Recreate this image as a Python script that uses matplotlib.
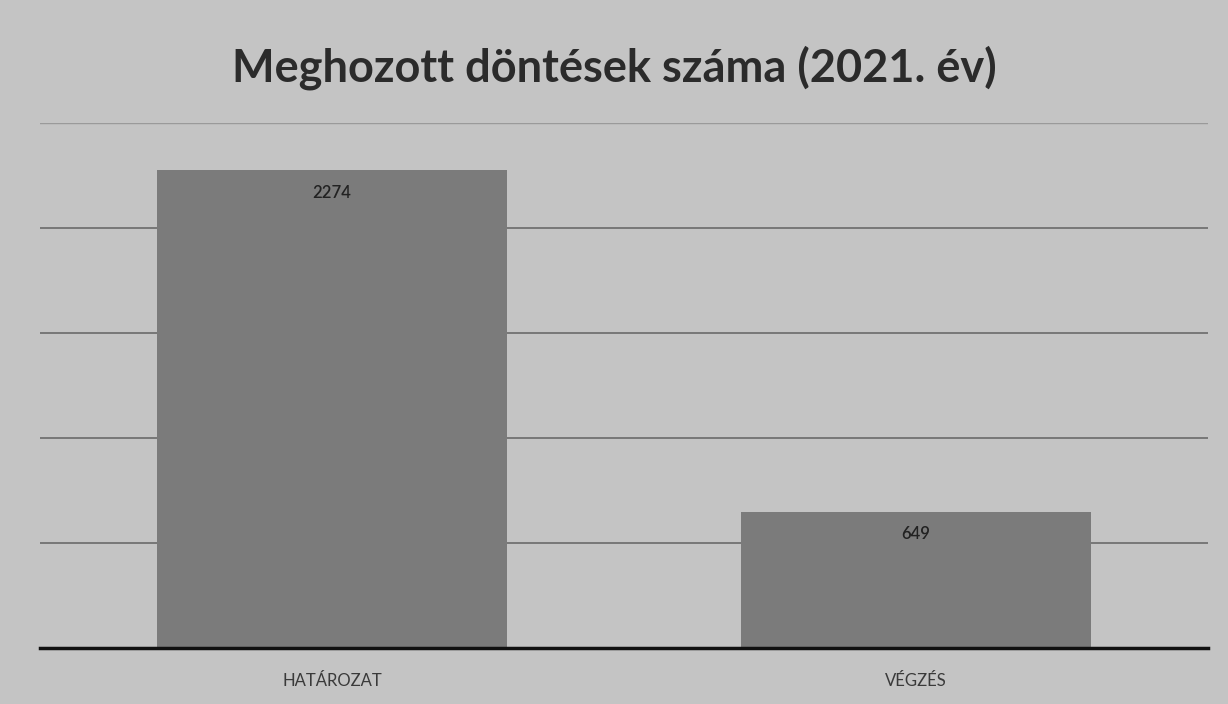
import numpy as np
import matplotlib.pyplot as plt

# kategóriák és értékek
categories = ["HATÁROZAT", "VÉGZÉS"]
values = [2274, 649]

plt.rcParams['font.family'] = ['Lato', 'DejaVu Sans']

fig = plt.figure(figsize=(12.28, 7.04), dpi=100)
fig.patch.set_facecolor('#c4c4c4')
ax = fig.add_axes([40 / 1228, 56 / 704, 1168 / 1228, 525 / 704])
ax.set_facecolor('#c4c4c4')

x = np.arange(len(categories))
bars = ax.bar(x, values, width=0.6, color='#7b7b7b', zorder=2)

# értékek a oszlopok tetején belül
for xi, v in zip(x, values):
    ax.text(xi, v - 70, str(v), ha='center', va='top', fontsize=12,
            color='#222222', fontweight='semibold', zorder=3)

ax.set_xlim(-0.5, 1.5)
ax.set_ylim(0, 2500)
ax.set_yticks([500, 1000, 1500, 2000])
ax.yaxis.grid(True, color='#6a6a6a', linewidth=1.2, zorder=0)
# legfelső, halványabb rácsvonal
ax.axhline(2500, color='#9a9a9a', linewidth=1.0, zorder=0)
ax.tick_params(axis='y', left=False, labelleft=False)
ax.set_xticks(x)
ax.set_xticklabels(categories, fontsize=12, color='#3a3a3a')
ax.tick_params(axis='x', length=0, pad=18)

for s in ['top', 'right', 'left']:
    ax.spines[s].set_visible(False)
ax.spines['bottom'].set_linewidth(2.5)
ax.spines['bottom'].set_color('#111111')
ax.spines['bottom'].set_zorder(4)

fig.text(0.5, 1 - 68 / 704, "Meghozott döntések száma (2021. év)", ha='center',
         va='center', fontsize=32.5, fontweight='bold', color='#2b2b2b')

plt.savefig('out.png', dpi=100, facecolor=fig.get_facecolor())
